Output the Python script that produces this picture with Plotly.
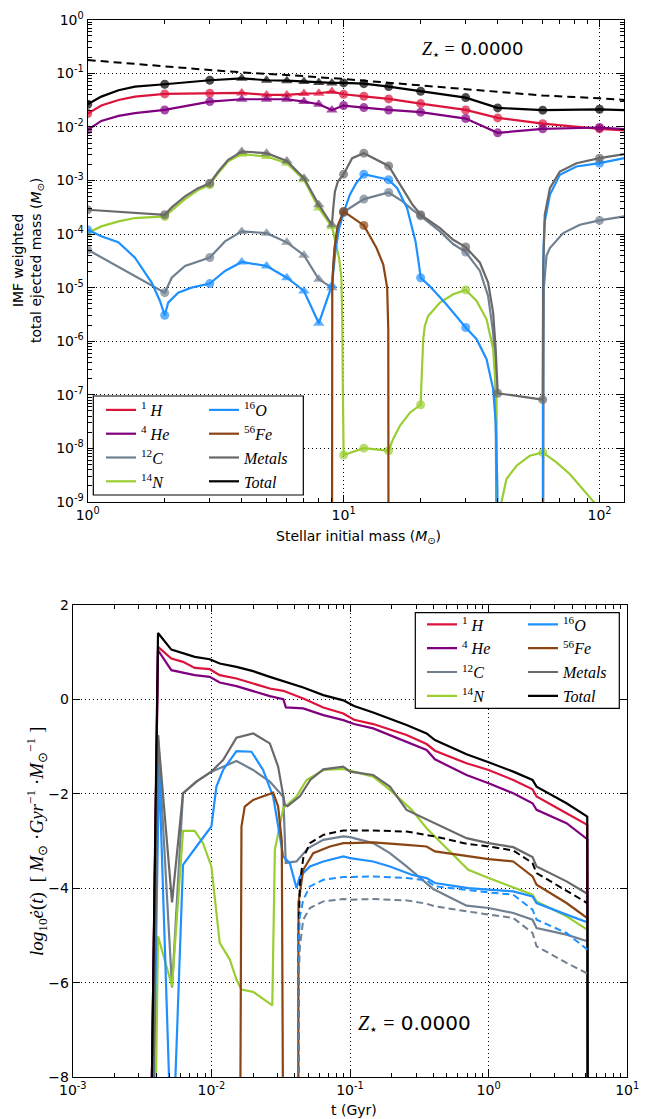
import plotly.graph_objects as go

# ===================== TOP PANEL DATA (stellar initial mass, Msun) =====================
MODEL_MASSES = [1, 2, 3, 4, 5, 6, 7, 8, 9, 10, 12, 15, 20, 30, 40, 60, 100]

M_MAIN = [1, 1.13, 1.32, 1.53, 2, 3, 4, 5, 6, 7, 8, 9, 10, 12, 15, 20, 30, 40, 60, 100, 125]
Y_TOTAL = [0.0264, 0.0367, 0.0482, 0.0565, 0.0624, 0.0741, 0.0807, 0.0741, 0.0729, 0.0700, 0.0670,
           0.0661, 0.0661, 0.0641, 0.0565, 0.0462, 0.0352, 0.0226, 0.0205, 0.0213, 0.0205]
Y_H = [0.0177, 0.0250, 0.0318, 0.0367, 0.0412, 0.0424, 0.0431, 0.0394, 0.0394, 0.0418, 0.0424,
       0.0455, 0.0406, 0.0372, 0.0333, 0.0272, 0.0207, 0.0147, 0.0115, 0.00918, 0.00855]
Y_HE = [0.00879, 0.0129, 0.0160, 0.0180, 0.0207, 0.0296, 0.0328, 0.0328, 0.0328, 0.0296, 0.0264,
        0.0207, 0.0250, 0.0229, 0.0207, 0.0188, 0.0143, 0.00773, 0.00918, 0.00973, 0.00906]

M_METALS = [1, 2, 2.13, 2.4, 2.7, 3, 3.24, 3.54, 4, 5, 6, 7, 8, 9, 9.11, 9.25, 9.5, 10, 10.8, 12, 15,
            17, 18.6, 20, 23.8, 26.8, 30, 34.1, 36.7, 38.4, 39.3, 39.9, 40, 60, 60.05, 60.3, 61.1,
            64, 70, 81.3, 100, 125]
Y_METALS = [2.84e-4, 2.29e-4, 3.14e-4, 5.04e-4, 7.19e-4, 8.91e-4, 1.47e-3, 2.43e-3, 3.47e-3, 3.23e-3,
            2.32e-3, 1.10e-3, 3.52e-4, 1.49e-4, 3.05e-4, 6.24e-4, 9.57e-4, 1.31e-3, 2.61e-3, 3.23e-3,
            1.87e-3, 7.19e-4, 3.52e-4, 2.29e-4, 1.29e-4, 7.83e-5, 5.73e-5, 2.92e-5, 1.24e-5, 3.42e-6,
            7.10e-7, 1.48e-7, 1.07e-7, 8.13e-8, 3.2e-6, 2.5e-5, 2.29e-4, 7.19e-4, 1.47e-3, 2.10e-3,
            2.61e-3, 3.10e-3]

M_N = [1, 1.13, 1.32, 1.53, 2, 2.13, 2.4, 2.7, 3, 3.24, 3.54, 4, 5, 6, 7, 8, 9, 9.3, 9.6, 9.8, 9.88,
       9.93, 9.97, 10, 12, 15, 15.6, 16.6, 18.2, 20, 20.17, 20.47, 20.77, 21.4, 23.8, 26.8, 30, 33.1,
       36.2, 38.4, 39.6, 39.95, 40, 41.4, 43.3, 47.4, 53.4, 60, 67.9, 76.5, 86.3, 95.3, 100, 125]
Y_N = [1.05e-4, 1.39e-4, 1.72e-4, 1.99e-4, 2.13e-4, 2.75e-4, 4.47e-4, 6.61e-4, 8.30e-4, 1.38e-3,
       2.29e-3, 3.10e-3, 2.80e-3, 2.10e-3, 1.03e-3, 3.05e-4, 1.37e-4, 7.08e-5, 3.55e-5, 1.58e-5,
       2.51e-6, 1.58e-7, 2.51e-8, 7.52e-9, 1.01e-8, 9.06e-9, 1.49e-8, 2.64e-8, 4.69e-8, 6.52e-8,
       1.96e-7, 1.09e-6, 1.93e-6, 2.96e-6, 5.25e-6, 7.52e-6, 9.06e-6, 5.65e-6, 2.57e-6, 7.10e-7,
       8.32e-8, 3.2e-9, 1e-13, 1.0e-9, 2.69e-9, 4.75e-9, 7.29e-9, 8.41e-9, 5.50e-9, 3.33e-9,
       1.75e-9, 9.86e-10, 1e-13, 1e-13]

M_C = [1, 2, 2.13, 2.4, 3, 3.44, 4, 5, 6, 7, 8, 9, 9.2, 9.5, 10, 12, 15, 17, 18.6, 20, 23.8, 26.8, 30,
       34.1, 36.7, 38.4, 39.2, 39.6, 40, 60, 60.3, 60.6, 62.1, 64, 72.1, 83.8, 100, 125]
Y_C = [5.10e-5, 8.07e-6, 1.53e-5, 2.54e-5, 3.65e-5, 7.30e-5, 1.12e-4, 1.04e-4, 7.00e-5, 4.03e-5,
       1.43e-5, 1.0e-5, 5.0e-5, 1.26e-4, 2.57e-4, 4.49e-4, 5.97e-4, 4.07e-4, 2.82e-4, 2.19e-4,
       1.12e-4, 6.52e-5, 4.62e-5, 2.05e-5, 7.0e-6, 1.45e-6, 2.61e-7, 1.49e-8, 1e-13, 1e-13, 1e-6,
       1e-5, 3.98e-5, 5.48e-5, 1.04e-4, 1.49e-4, 1.80e-4, 2.13e-4]

M_O = [1, 1.13, 1.317, 1.53, 1.778, 1.916, 2, 2.063, 2.257, 2.544, 3, 3.44, 4, 5, 6, 7, 8, 8.5, 9, 9.3,
       9.6, 10, 10.58, 11.2, 12, 15, 16.2, 17.7, 19.1, 19.7, 20, 21.7, 25.2, 30, 33.1, 36.2, 38.4,
       39.3, 39.9, 40, 60, 60.15, 60.5, 61.1, 64, 70, 81.3, 100, 125]
Y_O = [1.20e-4, 9.1e-5, 7.08e-5, 3.62e-5, 1.24e-5, 5.65e-6, 3.05e-6, 5.25e-6, 8.07e-6, 1.0e-5,
       1.19e-5, 2.05e-5, 3.01e-5, 2.54e-5, 1.53e-5, 8.67e-6, 2.16e-6, 4.9e-6, 1.10e-5, 5.0e-5,
       1.26e-4, 2.51e-4, 5.41e-4, 8.91e-4, 1.31e-3, 1.03e-3, 7.19e-4, 3.05e-4, 7.30e-5, 2.69e-5,
       1.53e-5, 1.07e-5, 4.89e-6, 1.80e-6, 1.09e-6, 4.62e-7, 1.28e-7, 3.05e-8, 1.74e-9, 1e-13,
       1e-13, 1e-5, 6.3e-5, 1.72e-4, 5.41e-4, 1.28e-3, 1.82e-3, 2.10e-3, 2.61e-3]

M_FE = [9, 9.03, 9.11, 9.25, 9.47, 10, 12, 13.45, 14.29, 14.8, 14.95, 15]
Y_FE = [1e-13, 1e-5, 2.5e-5, 6.3e-5, 1.41e-4, 2.64e-4, 1.45e-4, 5.5e-5, 2.69e-5, 1e-5, 1.6e-6, 1e-13]

M_IMF = [1, 2, 3, 4, 6, 10, 20, 30, 60, 100, 125]
Y_IMF = [0.177, 0.133, 0.115, 0.104, 0.0931, 0.0783, 0.0589, 0.0511, 0.0384, 0.0342, 0.0318]

# ===================== BOTTOM PANEL DATA (time, Gyr; log10 rate) =====================
T_TOTAL = [0.00364, 0.00412, 0.00514, 0.00624, 0.00758, 0.00973, 0.01148, 0.01517, 0.0200, 0.0264,
           0.0330, 0.0460, 0.0642, 0.0895, 0.107, 0.147, 0.256, 0.357, 0.410, 0.693, 1.0, 1.506,
           2.075, 2.218, 3.65, 5.15, 5.2]
E_TOTAL = [-10, 1.408, 1.056, 0.986, 0.901, 0.852, 0.761, 0.690, 0.599, 0.479, 0.387, 0.254, 0.092,
           -0.02, -0.14, -0.275, -0.542, -0.718, -0.859, -1.162, -1.331, -1.528, -1.704, -1.845,
           -2.197, -2.479, -10]
E_H = [-10, 1.113, 0.866, 0.796, 0.669, 0.641, 0.514, 0.444, 0.338, 0.232, 0.183, 0.021, -0.169,
       -0.296, -0.43, -0.521, -0.754, -0.944, -1.085, -1.352, -1.493, -1.704, -1.901, -2.056, -2.408,
       -2.655, -10]
T_HE = [0.00364, 0.00412, 0.00514, 0.00624, 0.00758, 0.00973, 0.01148, 0.01517, 0.0200, 0.0264,
        0.0330, 0.0345, 0.0460, 0.0642, 0.0895, 0.107, 0.147, 0.256, 0.357, 0.410, 0.693, 1.0, 1.506,
        2.075, 2.218, 3.65, 5.15, 5.2]
E_HE = [-10, 1.042, 0.620, 0.563, 0.514, 0.479, 0.359, 0.282, 0.183, 0.070, 0.007, -0.169, -0.190,
        -0.331, -0.437, -0.52, -0.613, -0.894, -1.070, -1.268, -1.599, -1.775, -1.986, -2.197,
        -2.338, -2.620, -2.958, -10]
T_METALS = [0.00375, 0.00412, 0.0052, 0.00624, 0.0078, 0.01, 0.01214, 0.01517, 0.0200, 0.0264, 0.0303,
            0.0339, 0.0354, 0.0435, 0.0518, 0.0642, 0.0895, 0.1, 0.147, 0.194, 0.256, 0.399, 0.693,
            1.0, 1.506, 2.075, 2.218, 3.65, 5.15, 5.2]
E_METALS = [-10, -0.754, -4.296, -1.986, -1.739, -1.528, -1.282, -0.810, -0.718, -0.930, -1.423,
            -2.232, -2.26, -2.05, -1.70, -1.479, -1.423, -1.528, -1.599, -1.845, -2.338, -2.606,
            -2.937, -3.042, -3.127, -3.338, -3.535, -3.852, -4.113, -10]
T_C = [0.00375, 0.00412, 0.0052, 0.00624, 0.0078, 0.01, 0.01214, 0.01517, 0.0200, 0.0264, 0.0330,
       0.0344, 0.0411, 0.0460, 0.0500, 0.0642, 0.0895, 0.1, 0.147, 0.194, 0.256, 0.399, 0.693, 1.0,
       1.506, 2.075, 2.218, 3.65, 5.15, 5.2]
E_C = [-10, -0.754, -6.1, -1.986, -1.739, -1.528, -1.423, -1.303, -1.493, -1.739, -2.06, -3.46,
       -3.43, -3.254, -3.148, -2.972, -2.901, -2.915, -3.042, -3.254, -3.535, -4.014, -4.366, -4.415,
       -4.521, -4.662, -4.838, -4.979, -5.12, -10]
T_N = [0.0039, 0.00412, 0.0052, 0.00624, 0.00758, 0.0087, 0.01, 0.01148, 0.01358, 0.01517, 0.01648,
       0.0200, 0.0275, 0.0287, 0.033, 0.0411, 0.0486, 0.0642, 0.0895, 0.1, 0.147, 0.194, 0.279,
       0.357, 0.41, 0.713, 1.0, 1.506, 2.075, 2.218, 3.65, 5.15, 5.2]
E_N = [-10, -5.014, -6.07, -2.782, -2.782, -3.042, -3.535, -5.155, -5.507, -5.93, -6.141, -6.19,
       -6.479, -3.183, -2.303, -2.056, -1.704, -1.493, -1.472, -1.507, -1.634, -1.915, -2.338,
       -2.725, -2.901, -3.606, -3.782, -3.972, -4.134, -4.275, -4.592, -4.873, -10]
T_O = [0.00375, 0.00419, 0.0052, 0.00624, 0.0078, 0.01, 0.01087, 0.01214, 0.01517, 0.01946, 0.0236,
       0.0279, 0.033, 0.0368, 0.0411, 0.0435, 0.0514, 0.0642, 0.0895, 0.1, 0.147, 0.194, 0.279,
       0.357, 0.41, 0.713, 1.0, 1.506, 2.075, 2.218, 3.65, 5.15, 5.2]
E_O = [-10, -1.4, -10, -3.5, -3.113, -2.69, -1.845, -1.493, -1.092, -1.106, -1.493, -2.056, -3.324,
       -3.465, -3.993, -3.746, -3.535, -3.43, -3.324, -3.359, -3.43, -3.535, -3.711, -3.782, -3.887,
       -3.993, -4.028, -4.063, -4.169, -4.31, -4.556, -4.718, -10]
T_FE = [0.0161, 0.01648, 0.0174, 0.0200, 0.0279, 0.0303, 0.0322, 0.033, 0.0423, 0.0425, 0.046,
        0.0543, 0.0716, 0.0895, 0.1, 0.147, 0.256, 0.357, 0.41, 0.713, 1.0, 1.506, 2.075, 2.218,
        3.65, 5.15, 5.2]
E_FE = [-10, -2.69, -2.268, -2.127, -1.972, -2.268, -3.0, -10, -10, -4.3, -3.606, -3.254, -3.113,
        -3.042, -3.042, -3.028, -3.077, -3.113, -3.218, -3.324, -3.38, -3.43, -3.746, -3.923, -4.31,
        -4.627, -10]
T_DASH = [0.0423, 0.0426, 0.0435, 0.046, 0.0514, 0.0642, 0.0895, 0.1, 0.147, 0.256, 0.357, 0.41,
          0.693, 1.0, 1.506, 2.075, 2.218, 3.65, 5.15]
E_TOTAL_DASH = [-10, -4.94, -3.887, -3.359, -3.042, -2.866, -2.775, -2.775, -2.775, -2.796, -2.866,
                -2.901, -3.056, -3.113, -3.197, -3.465, -3.676, -4.05, -4.31]
E_O_DASH = [-10, -5.2, -4.592, -4.239, -3.958, -3.817, -3.761, -3.761, -3.746, -3.782, -3.831,
            -3.958, -4.042, -4.085, -4.134, -4.451, -4.662, -4.944, -5.296]
E_C_DASH = [-10, -6.0, -5.225, -4.662, -4.415, -4.275, -4.225, -4.239, -4.225, -4.254, -4.324,
            -4.38, -4.486, -4.556, -4.627, -4.944, -5.225, -5.577, -5.803]

# tick labels
TOP_X_TICKS = [1, 10, 100]
TOP_X_TEXT = ["10<sup>0</sup>", "10<sup>1</sup>", "10<sup>2</sup>"]
TOP_Y_TICKS = [1e0, 1e-1, 1e-2, 1e-3, 1e-4, 1e-5, 1e-6, 1e-7, 1e-8, 1e-9]
TOP_Y_TEXT = ["10<sup>0</sup>", "10<sup>-1</sup>", "10<sup>-2</sup>", "10<sup>-3</sup>", "10<sup>-4</sup>",
              "10<sup>-5</sup>", "10<sup>-6</sup>", "10<sup>-7</sup>", "10<sup>-8</sup>", "10<sup>-9</sup>"]
BOT_X_TICKS = [1e-3, 1e-2, 1e-1, 1, 10]
BOT_X_TEXT = ["10<sup>-3</sup>", "10<sup>-2</sup>", "10<sup>-1</sup>", "10<sup>0</sup>", "10<sup>1</sup>"]

NAMES = {"H": "<sup>1</sup> <i>H</i>", "He": "<sup>4</sup> <i>He</i>", "C": "<sup>12</sup><i>C</i>",
         "N": "<sup>14</sup><i>N</i>", "O": "<sup>16</sup><i>O</i>", "Fe": "<sup>56</sup><i>Fe</i>",
         "Metals": "<i>Metals</i>", "Total": "<i>Total</i>"}
COL = {"H": "#DC143C", "He": "#800080", "C": "#708090", "N": "#9ACD32", "O": "#1E90FF",
       "Fe": "#8B4513", "Metals": "#696969", "Total": "#000000"}
LW = 2.2

fig = go.Figure()

# ---------------- top panel traces ----------------
top = [("H", M_MAIN, Y_H, "legend"), ("He", M_MAIN, Y_HE, "legend"), ("C", M_C, Y_C, "legend"),
       ("N", M_N, Y_N, "legend"), ("O", M_O, Y_O, "legend2"), ("Fe", M_FE, Y_FE, "legend2"),
       ("Metals", M_METALS, Y_METALS, "legend2"), ("Total", M_MAIN, Y_TOTAL, "legend2")]
for key, xs, ys, lg in top:
    fig.add_trace(go.Scatter(x=xs, y=ys, mode="lines", name=NAMES[key], legend=lg,
                             line=dict(color=COL[key], width=LW), xaxis="x", yaxis="y"))
    mx = [m for m in xs if m in MODEL_MASSES]
    my = [v for m, v in zip(xs, ys) if m in MODEL_MASSES]
    fig.add_trace(go.Scatter(
        x=mx, y=my, mode="markers", showlegend=False, xaxis="x", yaxis="y",
        marker=dict(color=COL[key], size=[10 if 4 <= m <= 9 else 9 for m in mx],
                    symbol=["triangle-up" if 4 <= m <= 9 else "circle" for m in mx],
                    line=dict(width=0))))
fig.add_trace(go.Scatter(x=M_IMF, y=Y_IMF, mode="lines", showlegend=False, xaxis="x", yaxis="y",
                         line=dict(color="black", width=2, dash="8px,5px")))

# ---------------- bottom panel traces ----------------
bottom = [("H", T_TOTAL, E_H, "legend3"), ("He", T_HE, E_HE, "legend3"), ("C", T_C, E_C, "legend3"),
          ("N", T_N, E_N, "legend3"), ("O", T_O, E_O, "legend4"), ("Fe", T_FE, E_FE, "legend4"),
          ("Metals", T_METALS, E_METALS, "legend4"), ("Total", T_TOTAL, E_TOTAL, "legend4")]
for key, xs, ys, lg in bottom:
    fig.add_trace(go.Scatter(x=xs, y=ys, mode="lines", name=NAMES[key], legend=lg,
                             line=dict(color=COL[key], width=LW), xaxis="x2", yaxis="y2"))
for ys, key in [(E_TOTAL_DASH, "Total"), (E_O_DASH, "O"), (E_C_DASH, "C")]:
    fig.add_trace(go.Scatter(x=T_DASH, y=ys, mode="lines", showlegend=False, xaxis="x2", yaxis="y2",
                             line=dict(color=COL[key], width=2, dash="7px,4px")))

W, H = 647, 1119
def px(x):
    return x / W
def py(y):
    return 1 - y / H

AX = dict(showline=True, linecolor="black", linewidth=1.3, mirror="allticks", ticks="inside",
          ticklen=7, tickwidth=1, tickcolor="black", showgrid=True, gridcolor="black",
          griddash="1px,3px", gridwidth=1, zeroline=False, automargin=False,
          tickfont=dict(family="DejaVu Sans", size=14, color="black"))

def minor_vals(lo, hi):
    out = []
    for d in range(lo, hi):
        for k in range(2, 10):
            out.append(k * 10.0 ** d)
    return out

def minor(vals):
    return dict(tickmode="array", tickvals=vals, ticks="inside", ticklen=4, tickcolor="black",
                showgrid=False)

fig.update_layout(
    width=W, height=H, margin=dict(l=0, r=0, t=0, b=0),
    paper_bgcolor="white", plot_bgcolor="white",
    font=dict(family="DejaVu Sans", size=14, color="black"),
    showlegend=True,
    xaxis=dict(AX, type="log", range=[0, 2.0969], domain=[px(87.7), px(624.3)], anchor="y",
               tickmode="array", tickvals=TOP_X_TICKS, ticktext=TOP_X_TEXT,
               minor=minor([v for v in minor_vals(0, 2) if v < 125])),
    yaxis=dict(AX, type="log", range=[-9, 0], domain=[py(502), py(19.7)], anchor="x",
               tickmode="array", tickvals=TOP_Y_TICKS, ticktext=TOP_Y_TEXT,
               minor=minor(minor_vals(-9, 0))),
    xaxis2=dict(AX, type="log", range=[-3, 1], domain=[px(72.8), px(627.2)], anchor="y2",
                tickmode="array", tickvals=BOT_X_TICKS, ticktext=BOT_X_TEXT,
                minor=minor(minor_vals(-3, 1))),
    yaxis2=dict(AX, range=[-8, 2], domain=[py(1077.3), py(605)], anchor="x2", dtick=2),
)

LEG = dict(xanchor="left", yanchor="top", bgcolor="rgba(0,0,0,0)", borderwidth=0,
           font=dict(family="Liberation Serif", size=16, color="black"), tracegroupgap=0)
fig.update_layout(
    legend=dict(LEG, x=px(101), y=py(393)),
    legend2=dict(LEG, x=px(204), y=py(393)),
    legend3=dict(LEG, x=px(422), y=py(607.5)),
    legend4=dict(LEG, x=px(523), y=py(607.5)),
)

# legend frames
for x0, y0, x1, y1 in [(93.3, 396, 303.3, 495), (415.3, 612.7, 619.3, 708.3)]:
    fig.add_shape(type="rect", xref="paper", yref="paper", x0=px(x0), x1=px(x1), y0=py(y1), y1=py(y0),
                  line=dict(color="black", width=1.2), fillcolor="white", layer="above")

ann = [
    dict(x=px(358), y=py(537), text="Stellar initial mass (<i>M</i><sub>⊙</sub>)",
         font=dict(family="DejaVu Sans", size=14)),
    dict(x=px(28), y=py(261), text="IMF weighted<br>total ejected mass (<i>M</i><sub>⊙</sub>)",
         textangle=-90, font=dict(family="DejaVu Sans", size=14)),
    dict(x=px(354), y=py(1110), text="t (Gyr)", font=dict(family="DejaVu Sans", size=14)),
    dict(x=px(36), y=py(842),
         text="<i>log</i><sub>10</sub><i>ė</i>(<i>t</i>)  [ <i>M</i><sub>⊙</sub> ·<i>Gyr</i><sup>−1</sup> ·<i>M</i><sub>⊙</sub><sup>−1</sup> ]",
         textangle=-90, font=dict(family="Liberation Serif", size=19)),
    dict(x=px(472), y=py(50),
         text='<span style="font-family:Liberation Serif"><i>Z</i><sub>⋆</sub> =</span> 0.0000',
         font=dict(family="DejaVu Sans", size=18)),
    dict(x=px(414), y=py(1024),
         text='<span style="font-family:Liberation Serif"><i>Z</i><sub>⋆</sub> =</span> 0.0000',
         font=dict(family="DejaVu Sans", size=20)),
]
for a in ann:
    fig.add_annotation(dict(a, xref="paper", yref="paper", showarrow=False, xanchor="center",
                            yanchor="middle"))

fig.write_html("out.html")
